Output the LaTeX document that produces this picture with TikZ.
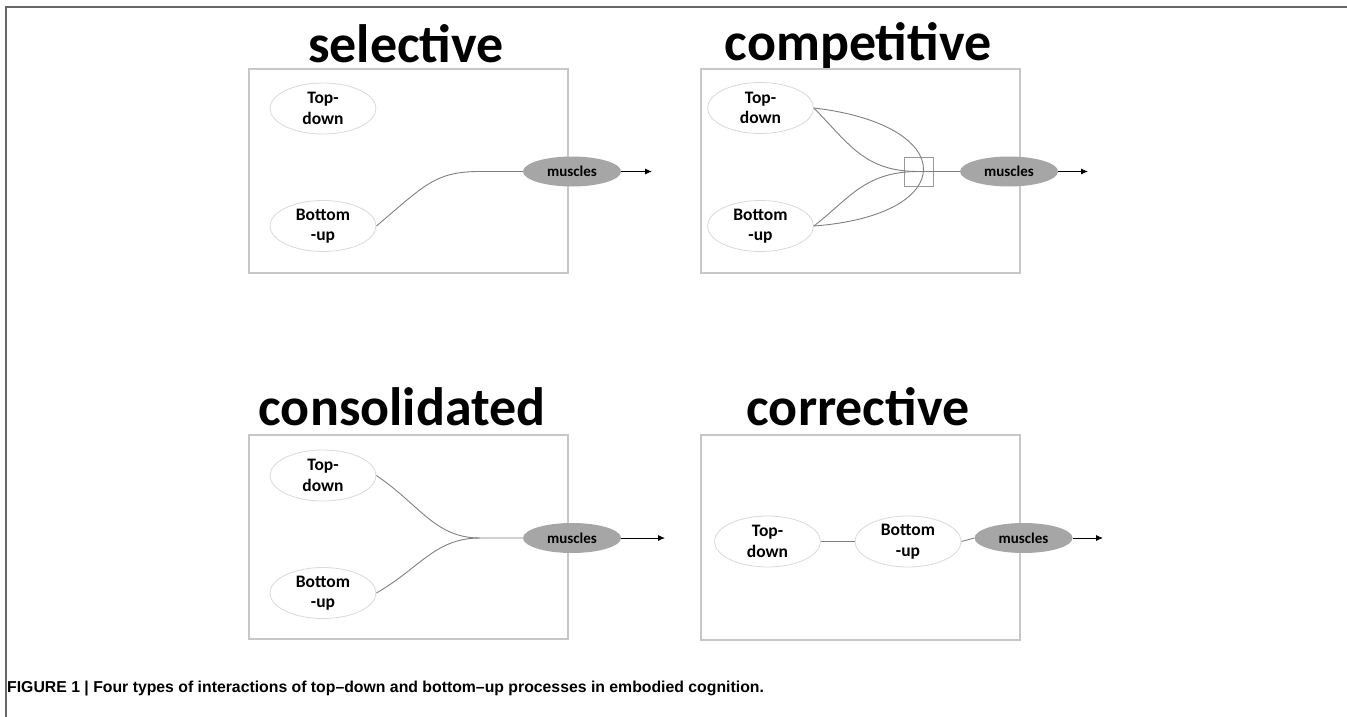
\documentclass[tikz,border=0pt]{standalone}
\usepackage{fontspec}
\setmainfont{Carlito}
\newfontfamily\capfont{Liberation Sans}
\usetikzlibrary{shapes.geometric,arrows.meta}

\begin{document}
\begin{tikzpicture}[x=1pt, y=-1pt,
  frame/.style={draw=black!22, line width=1.3pt},
  proc/.style={ellipse, draw=black!15, line width=0.8pt, minimum width=106pt, minimum height=51pt,
    inner sep=0pt, align=center, font=\fontsize{17.5}{20.5}\selectfont\bfseries},
  mus/.style={ellipse, fill=black!35, minimum width=98pt, minimum height=30pt, inner sep=0pt,
    font=\fontsize{15}{17}\selectfont\bfseries},
  link/.style={draw=black!50, line width=0.9pt},
  arr/.style={draw=black, line width=0.9pt, -{Latex[length=7pt,width=6pt]}},
  title/.style={anchor=base, font=\fontsize{54}{64}\selectfont\bfseries}]
  \useasboundingbox (0,0) rectangle (1347,717);
  \draw[black!60, line width=2pt] (1347,7) -- (6,7) -- (6,717);

  % titles
  \node[title] (t1) at (406,63) {selective};
  \node[title] (t2) at (858,60) {competitive};
  \node[title] (t3) at (402,425) {consolidated};
  \node[title] (t4) at (858,425) {corrective};

  % panel frames
  \draw[frame] (249,69) rectangle (568,273);
  \draw[frame] (701,69) rectangle (1020,273);
  \draw[frame] (249,435) rectangle (568,639);
  \draw[frame] (701,435) rectangle (1020,640);

  % selective
  \node[proc] (td1) at (323,108.5) {Top-\\down};
  \node[proc] (bu1) at (323,226) {Bottom\\-up};
  \node[mus] (m1) at (572,171.5) {muscles};
  \coordinate (o1) at (652,171.5);
  \draw[link] (bu1.east) .. controls (425,185) and (435,171.5) .. (480,171.5) -- (m1.west);
  \draw[arr] (m1.east) -- (o1);

  % competitive
  \node[proc] (td2) at (760.5,108) {Top-\\down};
  \node[proc] (bu2) at (760.5,226) {Bottom\\-up};
  \node[draw=black!40, line width=0.8pt, minimum size=29pt, inner sep=0pt] (sq) at (918.5,171.5) {};
  \node[mus] (m2) at (1009,171.5) {muscles};
  \coordinate (o2) at (1088,171.5);
  \draw[link] (td2.east) .. controls (850,145) and (865,171.5) .. (sq.center) -- (m2.west);
  \draw[link] (bu2.east) .. controls (850,198) and (865,171.5) .. (sq.center);
  \draw[link] (td2.east) .. controls (960,125) and (960,215) .. (bu2.east);
  \draw[arr] (m2.east) -- (o2);

  % consolidated
  \node[proc] (td3) at (323,475.5) {Top-\\down};
  \node[proc] (bu3) at (323,593) {Bottom\\-up};
  \node[mus] (m3) at (572,538) {muscles};
  \coordinate (o3) at (665,538);
  \draw[link] (td3.east) .. controls (420,505) and (435,538) .. (480,538) -- (m3.west);
  \draw[link] (bu3.east) .. controls (420,568) and (435,538) .. (480,538);
  \draw[arr] (m3.east) -- (o3);

  % corrective
  \node[proc] (td4) at (767.5,541.5) {Top-\\down};
  \node[proc] (bu4) at (908,541.5) {Bottom\\-up};
  \node[mus] (m4) at (1023.5,538) {muscles};
  \coordinate (o4) at (1103,538);
  \draw[link] (td4) -- (bu4);
  \draw[link] (bu4.east) -- (m4.west);
  \draw[arr] (m4.east) -- (o4);

  \node[anchor=base west, inner sep=0pt, font=\capfont\fontsize{15.8}{18}\selectfont\bfseries] (cap) at (7,692)
    {FIGURE 1 | Four types of interactions of top–down and bottom–up processes in embodied cognition.};
\end{tikzpicture}
\end{document}
